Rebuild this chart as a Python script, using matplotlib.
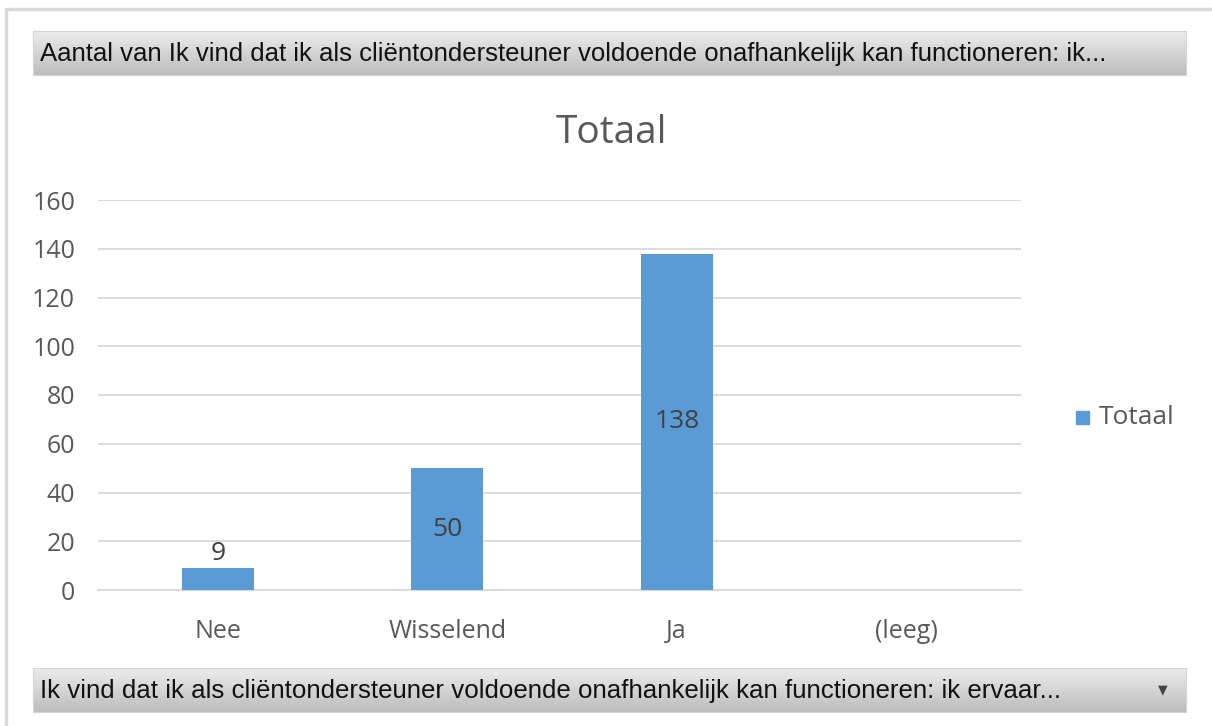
import numpy as np
import matplotlib
matplotlib.use("Agg")
import matplotlib.pyplot as plt
from matplotlib.patches import Rectangle

categories = ["Nee", "Wisselend", "Ja", "(leeg)"]
values = [9, 50, 138, 0]
labels = ["9", "50", "138", ""]
yticks = [0, 20, 40, 60, 80, 100, 120, 140, 160]
title = "Totaal"
legend_label = "Totaal"
top_button = "Aantal van Ik vind dat ik als cliëntondersteuner voldoende onafhankelijk kan functioneren: ik..."
bottom_button = "Ik vind dat ik als cliëntondersteuner voldoende onafhankelijk kan functioneren: ik ervaar..."

W, H = 1212, 726
plt.rcParams['font.family'] = ['Open Sans', 'DejaVu Sans']
fig = plt.figure(figsize=(W / 100, H / 100), dpi=100)
renderer = fig.canvas.get_renderer()

def px(x0, y0, x1, y1):
    # pixel box (top-left origin) -> figure fraction
    return [x0 / W, 1 - y1 / H, (x1 - x0) / W, (y1 - y0) / H]

# outer frame
frame = fig.add_axes([0, 0, 1, 1])
frame.set_xlim(0, W)
frame.set_ylim(H, 0)
frame.axis('off')
frame.plot([6, 6, W], [H, 9, 9], color='#d9d9d9', lw=2.5)

grad = np.linspace(0, 1, 50).reshape(-1, 1)
cmap = matplotlib.colors.LinearSegmentedColormap.from_list('btn', ['#ececec', '#bdbdbd'])

def button(box, text, text_width, arrow=False):
    bax = fig.add_axes(px(*box))
    bax.imshow(grad, aspect='auto', cmap=cmap, extent=[0, 1, 1, 0])
    bax.set_xlim(0, 1)
    bax.set_ylim(1, 0)
    bax.set_xticks([])
    bax.set_yticks([])
    for s in bax.spines.values():
        s.set_color('#d4d4d4')
    t = bax.text(7 / (box[2] - box[0]), 0.52, text, va='center', ha='left',
                 fontsize=14, color='#111111', family=['Liberation Sans', 'DejaVu Sans'])
    # fit the text to the width seen in the reference
    w = t.get_window_extent(renderer).width
    t.set_fontsize(14 * text_width / w)
    if arrow:
        bax.text(1 - 23 / (box[2] - box[0]), 0.5, '▼', va='center', ha='center',
                 fontsize=9, color='#444444', family='DejaVu Sans')

button((33, 31, 1186, 75), top_button, 1073)
button((33, 668, 1186, 712), bottom_button, 1030, arrow=True)

# main chart
ax = fig.add_axes(px(98, 200, 1021, 590))
x = np.arange(len(categories))
bars = ax.bar(x, values, width=0.314, color='#5b9bd5', zorder=3, label=legend_label)
ax.set_xlim(-0.5 - 5 / 229.5, len(categories) - 0.5)
ax.set_ylim(0, 160)
ax.set_yticks(yticks)
ax.set_xticks(x)
ax.set_xticklabels(categories)
ax.tick_params(axis='both', length=0, labelsize=18, labelcolor='#595959')
ax.tick_params(axis='y', pad=16.5)
ax.tick_params(axis='x', pad=21)
ax.grid(axis='y', color='#d9d9d9', lw=1.3, zorder=0)
for s in ['top', 'right', 'left']:
    ax.spines[s].set_visible(False)
ax.spines['bottom'].set_color('#d9d9d9')
ax.spines['bottom'].set_linewidth(1.3)

for xi, v, lab in zip(x, values, labels):
    if not lab:
        continue
    if v < 20:
        ax.text(xi, v + 1.0, lab, ha='center', va='bottom', fontsize=19, color='#404040', zorder=4)
    else:
        ax.text(xi, v / 2, lab, ha='center', va='center', fontsize=19, color='#404040', zorder=4)

fig.text(611 / W, 1 - 133 / H, title, ha='center', va='center', fontsize=28, color='#595959')

# legend
leg = fig.add_axes([0, 0, 1, 1], facecolor='none')
leg.set_xlim(0, W)
leg.set_ylim(H, 0)
leg.axis('off')
leg.add_patch(Rectangle((1076, 411), 13, 13, color='#5b9bd5'))
leg.text(1099, 417, legend_label, ha='left', va='center', fontsize=19, color='#595959')

fig.savefig('out.png', dpi=100)
